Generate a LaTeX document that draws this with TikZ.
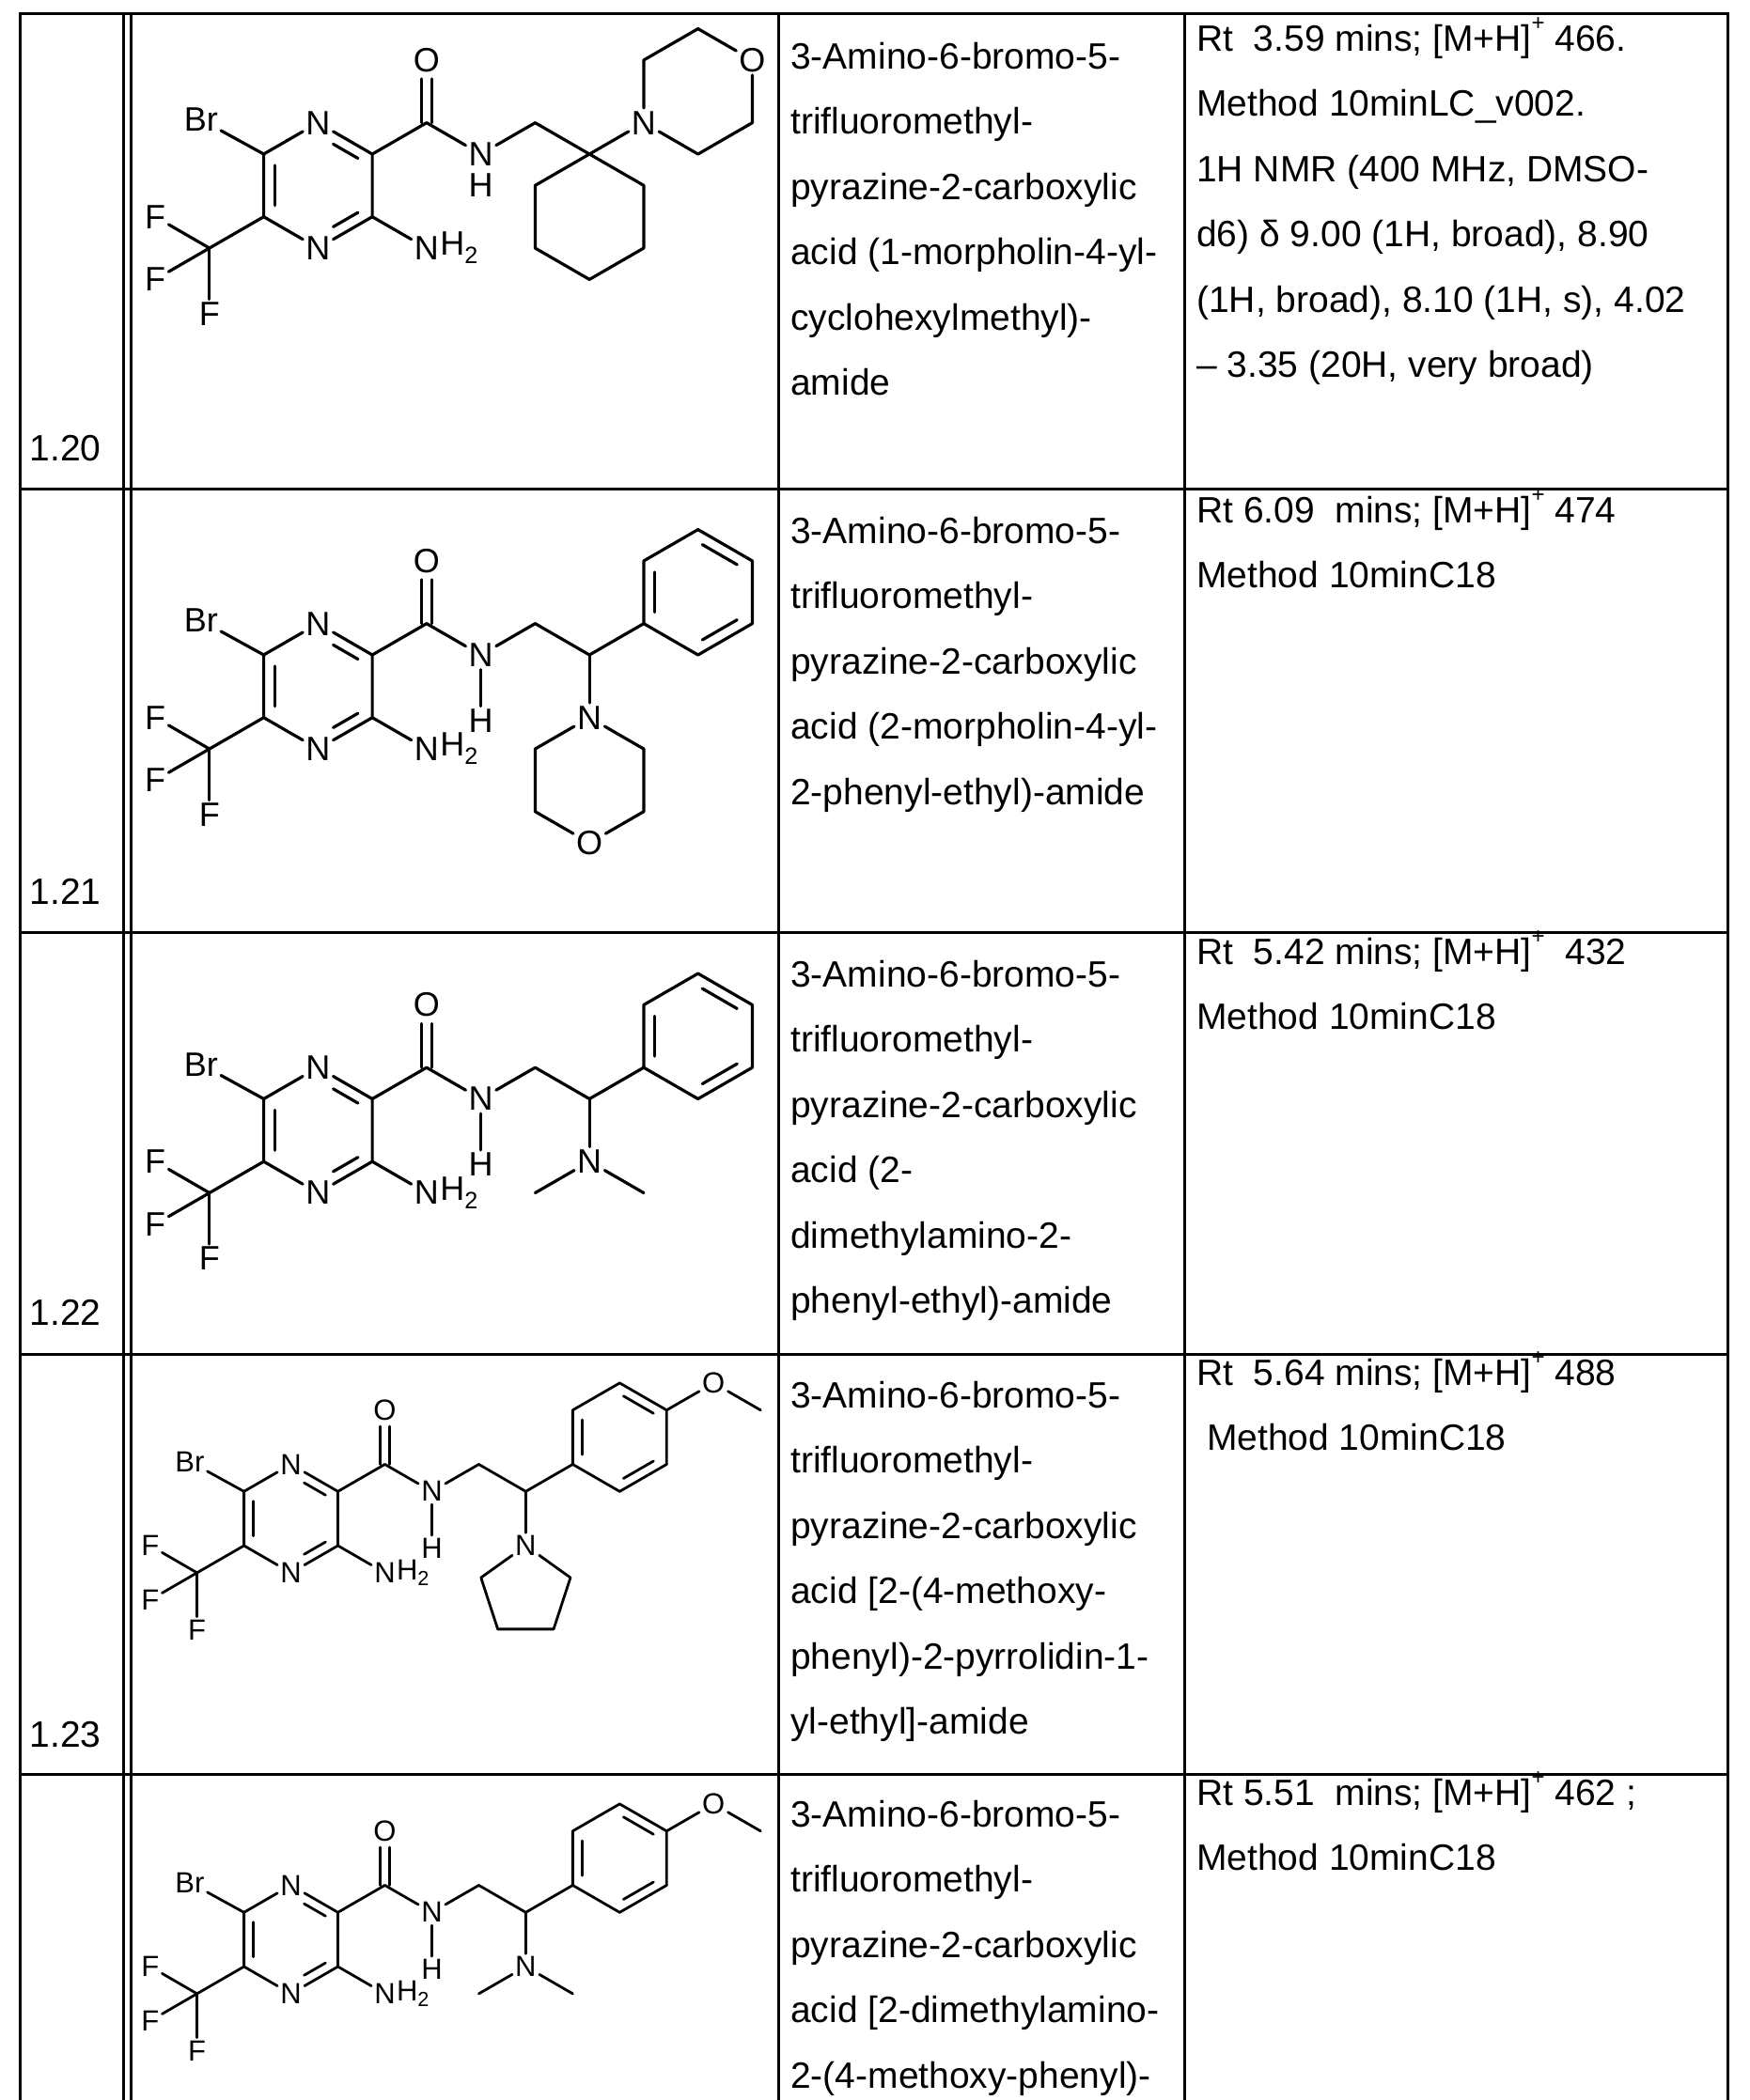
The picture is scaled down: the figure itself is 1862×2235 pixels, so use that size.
\documentclass[tikz,border=0pt]{standalone}
\usepackage{fontspec}
\setmainfont{Liberation Sans}
\usetikzlibrary{calc}
\tikzset{
 bond/.style={line width=\bw, line cap=round, line join=round},
 atom/.style={inner sep=3pt, font=\afont},
 tline/.style={line width=3pt},
 txt/.style={anchor=base west, inner sep=0, font=\fontsize{39}{39}\selectfont}
}
\def\bw{3.2pt}
\def\afont{\fontsize{36}{36}\selectfont}
\newcommand\supp[1]{\raisebox{0.55em}{\fontsize{24}{24}\selectfont #1}}
\newcommand\innerb[5]{\draw[bond] ($($(#1)!0.2!(#3)$)!#4!($(#2)!0.2!(#3)$)$) -- ($($(#1)!0.2!(#3)$)!#5!($(#2)!0.2!(#3)$)$);}
\newcommand\core[1]{%
 \coordinate (c6) at (0,0); \node[atom] (n1) at (0.866,-0.5){N}; \coordinate (c2) at (1.732,0);
 \coordinate (c3) at (1.732,1); \node[atom] (n4) at (0.866,1.5){N}; \coordinate (c5) at (0,1);
 \coordinate (rc) at (0.866,0.5);
 \draw[bond] (c6)--(n1); \draw[bond] (n1)--(c2)--(c3)--(n4); \draw[bond] (n4)--(c5)--(c6);
 \innerb{c6}{c5}{rc}{0.1}{0.9}\innerb{n1}{c2}{rc}{0.35}{0.92}\innerb{c3}{n4}{rc}{0.08}{0.65}
 \node[atom] (br) at (-1.0,-0.55){Br}; \draw[bond] (c6)--(br);
 \coordinate (cf) at (-0.866,1.5); \draw[bond] (c5)--(cf);
 \node[atom] (f1) at (-1.73,1.0){F}; \node[atom] (f2) at (-1.73,2.0){F}; \node[atom] (f3) at (-0.866,2.55){F};
 \draw[bond] (cf)--(f1); \draw[bond] (cf)--(f2); \draw[bond] (cf)--(f3);
 \coordinate (c7) at (2.598,-0.5); \node[atom] (o) at (2.598,-1.5){O}; \draw[bond] (c2)--(c7);
 \draw[bond] (2.518,-0.5)--(2.518,-1.2); \draw[bond] (2.678,-0.5)--(2.678,-1.2);
 \node[atom] (na) at (3.464,0){N}; \draw[bond] (c7)--(na);
 \node[atom] (nh2) at (2.598,1.5){N}; \node[atom,anchor=west,inner xsep=0] at ([xshift=-2pt]nh2.east){H\textsubscript{2}};
 \draw[bond] (c3)--(nh2);
 \coordinate (c8) at (4.33,-0.5); \draw[bond] (na)--(c8);
 \ifnum#1=1 \node[atom] (h) at (3.464,0.5){H};
 \else \node[atom] (h) at (3.464,1.05){H}; \draw[bond] (na)--(h); \fi
}
\newcommand\phenyl{%
 \coordinate (p1) at (6.062,-0.5); \coordinate (p2) at (6.062,-1.5); \coordinate (p3) at (6.928,-2);
 \coordinate (p4) at (7.794,-1.5); \coordinate (p5) at (7.794,-0.5); \coordinate (p6) at (6.928,0);
 \coordinate (pc) at (6.928,-1);
 \draw[bond] (p1)--(p2)--(p3)--(p4)--(p5)--(p6)--cycle;
 \innerb{p1}{p2}{pc}{0.1}{0.9}\innerb{p3}{p4}{pc}{0.1}{0.9}\innerb{p5}{p6}{pc}{0.1}{0.9}
 \coordinate (ch) at (5.196,0); \draw[bond] (c8)--(ch)--(p1);
}
\newcommand\nme{%
 \node[atom] (nm) at (5.196,1){N}; \draw[bond] (ch)--(nm);
 \draw[bond] (nm)--(4.33,1.5); \draw[bond] (nm)--(6.062,1.5);
}
\newcommand\methoxy{%
 \node[atom] (om) at (8.66,-2){O}; \draw[bond] (p4)--(om); \draw[bond] (om)--(9.526,-1.5);
}
\begin{document}
\begin{tikzpicture}[x=1pt,y=-1pt]
\useasboundingbox (0,0) rectangle (1862,2235);
\fill[white] (0,0) rectangle (1862,2235);
% table
\foreach \xx in {21.5,131.8,139,828,1260,1838} \draw[tline] (\xx,12.8)--(\xx,2235);
\foreach \yy in {14.3,520,992.5,1441,1888} \draw[tline] (20,\yy)--(1839.5,\yy);
% row numbers
\node[txt] (r20) at (31.5,490) {1.20};
\node[txt] (r21) at (31.5,962) {1.21};
\node[txt] (r22) at (31.5,1410) {1.22};
\node[txt] (r23) at (31.5,1859) {1.23};
% names
\newcommand\lines[3]{\foreach \t [count=\i from 0] in {#3} \node[txt] at (#1,#2+69.5*\i) {\t};}
\lines{841}{73}{3-Amino-6-bromo-5-,trifluoromethyl-,pyrazine-2-carboxylic,acid (1-morpholin-4-yl-,cyclohexylmethyl)-,amide}
\lines{841}{578}{3-Amino-6-bromo-5-,trifluoromethyl-,pyrazine-2-carboxylic,acid (2-morpholin-4-yl-,2-phenyl-ethyl)-amide}
\lines{841}{1050}{3-Amino-6-bromo-5-,trifluoromethyl-,pyrazine-2-carboxylic,acid (2-,dimethylamino-2-,phenyl-ethyl)-amide}
\lines{841}{1498}{3-Amino-6-bromo-5-,trifluoromethyl-,pyrazine-2-carboxylic,acid [2-(4-methoxy-,phenyl)-2-pyrrolidin-1-,yl-ethyl]-amide}
\lines{841}{1944}{3-Amino-6-bromo-5-,trifluoromethyl-,pyrazine-2-carboxylic,acid [2-dimethylamino-,2-(4-methoxy-phenyl)-}
% data
\lines{1273}{54}{{Rt\ \ 3.59 mins; [M+H]\supp{+} 466.},Method 10minLC\_v002.,{1H NMR (400 MHz, DMSO-},{d6) δ 9.00 (1H, broad), 8.90},{(1H, broad), 8.10 (1H, s), 4.02},{– 3.35 (20H, very broad)}}
\lines{1273}{556}{{Rt 6.09\ \ mins; [M+H]\supp{+} 474},Method 10minC18}
\lines{1273}{1026}{{Rt\ \ 5.42 mins; [M+H]\supp{+}\ \ 432},Method 10minC18}
\lines{1273}{1474}{{Rt\ \ 5.64 mins; [M+H]\supp{+} 488},\ Method 10minC18}
\lines{1273}{1921}{{Rt 5.51\ \ mins; [M+H]\supp{+} 462 ;},Method 10minC18}
% 1.20
\begin{scope}[shift={(280.6,164)},x=66.7pt,y=-66.7pt]
 \core{1}
 \coordinate (cq) at (5.196,0); \draw[bond] (c8)--(cq);
 \draw[bond] (cq)--(4.33,0.5)--(4.33,1.5)--(5.196,2)--(6.062,1.5)--(6.062,0.5)--cycle;
 \node[atom] (nm) at (6.062,-0.5){N}; \draw[bond] (cq)--(nm);
 \node[atom] (om) at (7.794,-1.5){O};
 \draw[bond] (nm)--(6.062,-1.5)--(6.928,-2)--(om);
 \draw[bond] (om)--(7.794,-0.5)--(6.928,0)--(nm);
\end{scope}
% 1.21
\begin{scope}[shift={(280.6,697)},x=66.7pt,y=-66.7pt]
 \core{2}\phenyl
 \node[atom] (nm) at (5.196,1){N}; \draw[bond] (ch)--(nm);
 \node[atom] (om) at (5.196,3){O};
 \draw[bond] (nm)--(4.33,1.5)--(4.33,2.5)--(om);
 \draw[bond] (om)--(6.062,2.5)--(6.062,1.5)--(nm);
\end{scope}
% 1.22
\begin{scope}[shift={(280.6,1169.5)},x=66.7pt,y=-66.7pt]
 \core{2}\phenyl\nme
\end{scope}
% 1.23
\def\bw{2.8pt}\def\afont{\fontsize{31}{31}\selectfont}
\begin{scope}[shift={(259.6,1587.3)},x=57.7pt,y=-57.7pt]
 \core{2}\phenyl\methoxy
 \node[atom] (nm) at (5.196,1){N}; \draw[bond] (ch)--(nm);
 \draw[bond] (nm)--(4.37,1.59)--(4.68,2.54)--(5.71,2.54)--(6.02,1.59)--(nm);
\end{scope}
% 1.24
\begin{scope}[shift={(259.6,2035.3)},x=57.7pt,y=-57.7pt]
 \core{2}\phenyl\methoxy\nme
\end{scope}
\end{tikzpicture}
\end{document}
